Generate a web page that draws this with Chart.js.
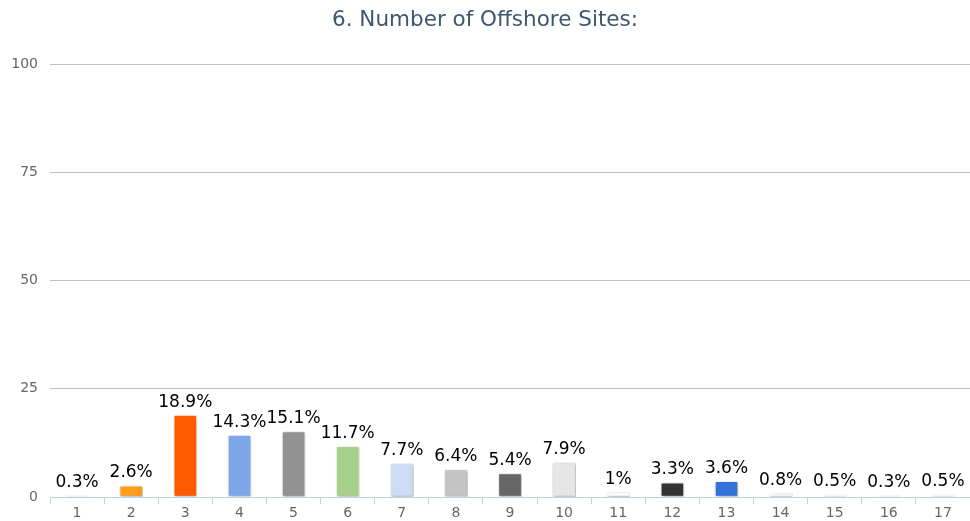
<!DOCTYPE html>
<html>
<head>
<meta charset="utf-8">
<script src="https://cdn.jsdelivr.net/npm/chart.js@4/dist/chart.umd.min.js"></script>
<style>
  html, body { margin: 0; padding: 0; background: #ffffff; }
  #wrap { width: 970px; height: 521px; }
</style>
</head>
<body>
<div id="wrap"><canvas id="c" width="970" height="521"></canvas></div>
<script>
const titleText = "6. Number of Offshore Sites:";
const categories = ["1","2","3","4","5","6","7","8","9","10","11","12","13","14","15","16","17"];
const values = [0.3, 2.6, 18.9, 14.3, 15.1, 11.7, 7.7, 6.4, 5.4, 7.9, 1, 3.3, 3.6, 0.8, 0.5, 0.3, 0.5];
const barColors = ["#ffffff","#ff9e1c","#ff5a00","#7da7e8","#929292","#a7d08c","#ccdcf5","#c4c4c4","#666666","#e6e6e6","#ffffff","#333333","#3371da","#ffffff","#ffffff","#ffffff","#ffffff"];
const yTicks = [0, 25, 50, 75, 100];

const FONT = "'DejaVu Sans', Verdana, sans-serif";

const shadowPlugin = {
  id: 'barShadow',
  beforeDatasetsDraw(chart) {
    const ctx = chart.ctx;
    ctx.save();
    ctx.shadowColor = 'rgba(0,0,0,0.38)';
    ctx.shadowBlur = 3;
    ctx.shadowOffsetX = 1;
    ctx.shadowOffsetY = 1;
  },
  afterDatasetsDraw(chart) {
    chart.ctx.restore();
  }
};

const labelPlugin = {
  id: 'valueLabels',
  afterDatasetsDraw(chart) {
    const ctx = chart.ctx;
    const meta = chart.getDatasetMeta(0);
    ctx.save();
    ctx.font = "17px " + FONT;
    ctx.fillStyle = '#000000';
    ctx.textAlign = 'center';
    ctx.textBaseline = 'alphabetic';
    meta.data.forEach((bar, i) => {
      ctx.fillText(values[i] + '%', bar.x, bar.y - 8.5);
    });
    ctx.restore();
  }
};

new Chart(document.getElementById('c'), {
  type: 'bar',
  data: {
    labels: categories,
    datasets: [{
      data: values,
      backgroundColor: barColors,
      borderColor: '#ffffff',
      borderWidth: 1,
      barThickness: 23,
      borderSkipped: false
    }]
  },
  options: {
    responsive: false,
    animation: false,
    devicePixelRatio: 1,
    layout: { padding: { left: 0, right: 0, top: 0, bottom: 0 } },
    plugins: {
      legend: { display: false },
      tooltip: { enabled: false },
      title: {
        display: true,
        text: titleText,
        color: '#3e576f',
        font: { family: FONT, size: 21.5, weight: 'normal' },
        padding: { top: 8, bottom: 30.2 }
      }
    },
    scales: {
      x: {
        grid: {
          display: true,
          drawOnChartArea: false,
          drawTicks: true,
          tickLength: 7,
          color: '#c0d0e0',
          offset: true
        },
        border: { display: true, color: '#c0d0e0', width: 1 },
        ticks: {
          color: '#666666',
          font: { family: FONT, size: 14 },
          padding: 1,
          maxRotation: 0,
          autoSkip: false
        },
        afterFit(scale) { scale.height = 24; }
      },
      y: {
        min: 0,
        max: 100,
        afterBuildTicks(scale) { scale.ticks = yTicks.map(v => ({ value: v })); },
        grid: {
          drawTicks: false,
          color: (c) => (c.tick && c.tick.value === 0) ? 'rgba(0,0,0,0)' : '#c0c0c0',
          lineWidth: 1
        },
        border: { display: false },
        ticks: {
          color: '#666666',
          font: { family: FONT, size: 14 },
          padding: 12
        },
        afterFit(scale) { scale.width = 50; }
      }
    }
  },
  plugins: [shadowPlugin, labelPlugin]
});
</script>
</body>
</html>
